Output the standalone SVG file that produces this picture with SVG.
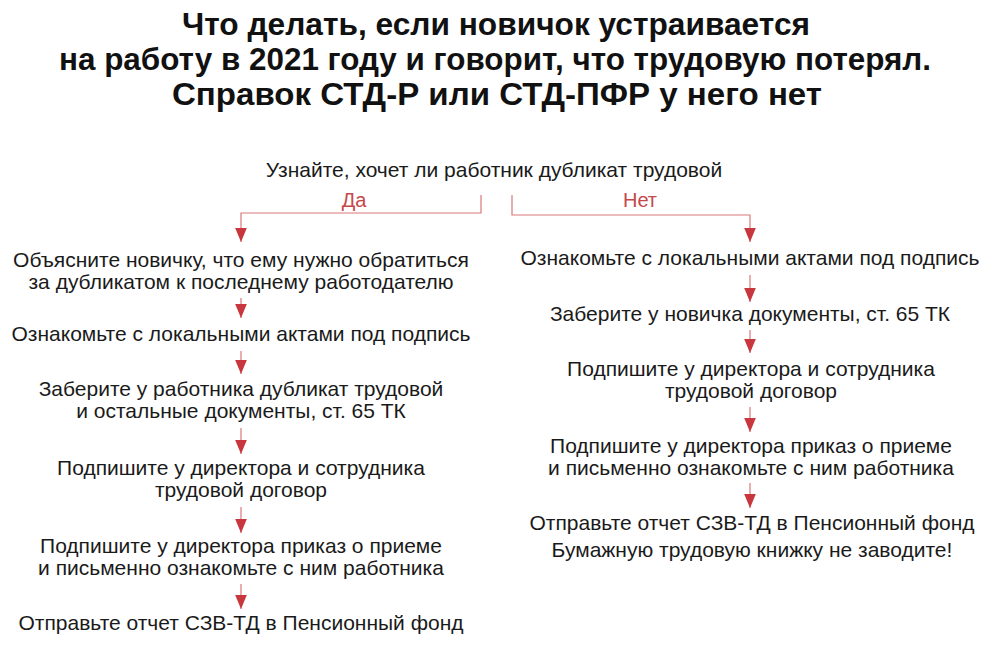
<svg xmlns="http://www.w3.org/2000/svg" width="993" height="650" viewBox="0 0 993 650">
<style>
.title{font-family:"Liberation Sans",Arial,sans-serif;font-weight:bold;font-size:31px;fill:#111;text-anchor:middle}
.t{font-family:"Liberation Sans",Arial,sans-serif;font-size:21px;fill:#1a1a1a;text-anchor:middle}
.lbl{font-family:"Liberation Sans",Arial,sans-serif;font-size:20px;fill:#c5484c;text-anchor:middle}
.ln{fill:none;stroke:#d9787b;stroke-width:1.2}
</style>
<defs>
<marker id="ah" markerUnits="userSpaceOnUse" markerWidth="14" markerHeight="12" refX="12" refY="5" orient="auto" viewBox="0 0 12 10">
<path d="M0,0 L12,5 L0,10 Z" fill="#c8373d"/>
</marker>
</defs>
<rect width="993" height="650" fill="#ffffff"/>
<g id="title">
<text class="title" x="496" y="35" textLength="628" lengthAdjust="spacingAndGlyphs">Что делать, если новичок устраивается</text>
<text class="title" x="495" y="70" textLength="872" lengthAdjust="spacingAndGlyphs">на работу в 2021 году и говорит, что трудовую потерял.</text>
<text class="title" x="497" y="105" textLength="650" lengthAdjust="spacingAndGlyphs">Справок СТД-Р или СТД-ПФР у него нет</text>
</g>
<g id="connectors">
<path class="ln" d="M481,195 V213 H241 V242" marker-end="url(#ah)"/>
<path class="ln" d="M512,195 V215 H750 V242" marker-end="url(#ah)"/>
<path class="ln" d="M241,298 V318" marker-end="url(#ah)"/>
<path class="ln" d="M241,351 V374" marker-end="url(#ah)"/>
<path class="ln" d="M241,428 V454" marker-end="url(#ah)"/>
<path class="ln" d="M241,507 V533" marker-end="url(#ah)"/>
<path class="ln" d="M241,584 V609" marker-end="url(#ah)"/>
<path class="ln" d="M750,275 V302" marker-end="url(#ah)"/>
<path class="ln" d="M750,330 V353" marker-end="url(#ah)"/>
<path class="ln" d="M750,407 V432" marker-end="url(#ah)"/>
<path class="ln" d="M750,483 V508" marker-end="url(#ah)"/>
</g>
<g id="labels">
<text class="lbl" x="354" y="207">Да</text>
<text class="lbl" x="640" y="207">Нет</text>
</g>
<g id="start"><text class="t" x="494" y="177">Узнайте, хочет ли работник дубликат трудовой</text></g>
<g id="l1"><text class="t" x="241" y="267">Объясните новичку, что ему нужно обратиться</text><text class="t" x="241" y="289">за дубликатом к последнему работодателю</text></g>
<g id="l2"><text class="t" x="241" y="341">Ознакомьте с локальными актами под подпись</text></g>
<g id="l3"><text class="t" x="241" y="396">Заберите у работника дубликат трудовой</text><text class="t" x="241" y="418">и остальные документы, ст. 65 ТК</text></g>
<g id="l4"><text class="t" x="241" y="475">Подпишите у директора и сотрудника</text><text class="t" x="241" y="497">трудовой договор</text></g>
<g id="l5"><text class="t" x="241" y="553">Подпишите у директора приказ о приеме</text><text class="t" x="241" y="575">и письменно ознакомьте с ним работника</text></g>
<g id="l6"><text class="t" x="241" y="630">Отправьте отчет СЗВ-ТД в Пенсионный фонд</text></g>
<g id="r1"><text class="t" x="750" y="265">Ознакомьте с локальными актами под подпись</text></g>
<g id="r2"><text class="t" x="750" y="321">Заберите у новичка документы, ст. 65 ТК</text></g>
<g id="r3"><text class="t" x="751" y="376">Подпишите у директора и сотрудника</text><text class="t" x="751" y="398">трудовой договор</text></g>
<g id="r4"><text class="t" x="751" y="453">Подпишите у директора приказ о приеме</text><text class="t" x="751" y="475">и письменно ознакомьте с ним работника</text></g>
<g id="r5"><text class="t" x="752" y="530">Отправьте отчет СЗВ-ТД в Пенсионный фонд</text><text class="t" x="752" y="557">Бумажную трудовую книжку не заводите!</text></g>
</svg>
